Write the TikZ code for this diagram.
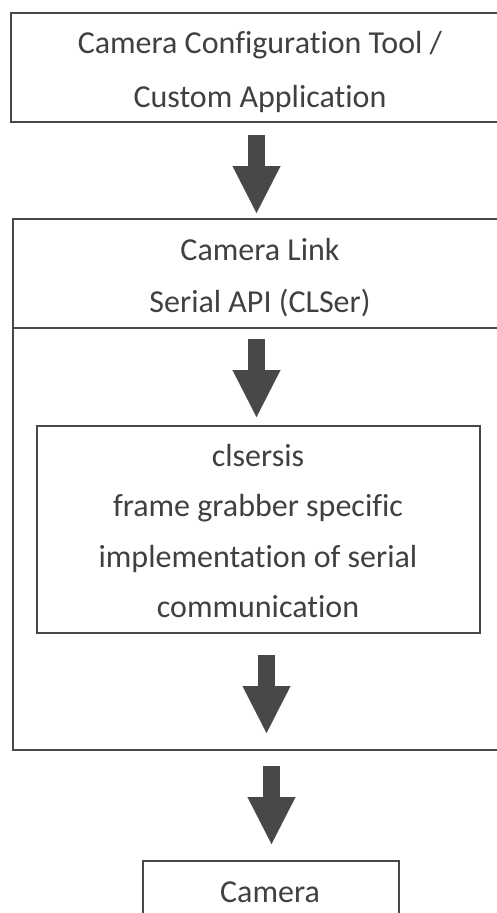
\documentclass[tikz,border=0pt]{standalone}
\usepackage{fontspec}
\setmainfont{Carlito}[RawFeature={-liga;-clig}]
\usetikzlibrary{arrows.meta}
\definecolor{linegray}{HTML}{474747}
\definecolor{textgray}{HTML}{404040}
\definecolor{arrowgray}{HTML}{484848}
\tikzset{
  box/.style={draw=linegray, line width=2pt, rectangle, inner sep=0pt, outer sep=0pt},
  lbl/.style={text=textgray, align=center, inner sep=0pt, outer sep=0pt},
  blockarrow/.style={draw=arrowgray, line width=17pt, line cap=butt,
    -{Triangle[width=48pt,length=47pt,line width=0.1pt,fill=arrowgray]}},
}
\begin{document}
\begin{tikzpicture}[x=1pt,y=-1pt]
\useasboundingbox (0,0) rectangle (497,913);
\clip (0,0) rectangle (497,913);
% boxes
\node[box, minimum width=509pt, minimum height=109pt] (app) at (265.5,67.5) {};
\node[box, minimum width=507.3pt, minimum height=531pt] (fg) at (266.35,484.5) {};
\node[box, minimum width=443pt, minimum height=207pt] (sis) at (258.5,529.5) {};
\node[box, minimum width=256pt, minimum height=62pt] (cam) at (271,892) {};
\coordinate (sepL) at (fg.west |- 0,328);
\coordinate (sepR) at (fg.east |- 0,328);
\draw[draw=linegray, line width=2pt] (sepL) -- (sepR);
% labels
\node[lbl, font=\fontsize{32}{54}\selectfont] (appt) at (260,72) {Camera Configuration Tool /\\Custom Application};
\node[lbl, font=\fontsize{32}{52}\selectfont] (clser) at (260,278) {Camera Link\\Serial API (CLSer)};
\node[lbl, font=\fontsize{32}{50.4}\selectfont] (sist) at (258,531) {clsersis\\frame grabber specific\\implementation of serial\\communication};
\node[lbl, font=\fontsize{32}{40}\selectfont] (camt) at (270,892) {Camera};
% arrows
\coordinate (a1s) at (256.5,135);  \coordinate (a1e) at (256.5,213);
\coordinate (a2s) at (256.5,339);  \coordinate (a2e) at (256.5,417);
\coordinate (a3s) at (266.5,655);  \coordinate (a3e) at (266.5,733);
\coordinate (a4s) at (271.5,766);  \coordinate (a4e) at (271.5,844);
\draw[blockarrow] (a1s) -- (a1e);
\draw[blockarrow] (a2s) -- (a2e);
\draw[blockarrow] (a3s) -- (a3e);
\draw[blockarrow] (a4s) -- (a4e);
\end{tikzpicture}
\end{document}
